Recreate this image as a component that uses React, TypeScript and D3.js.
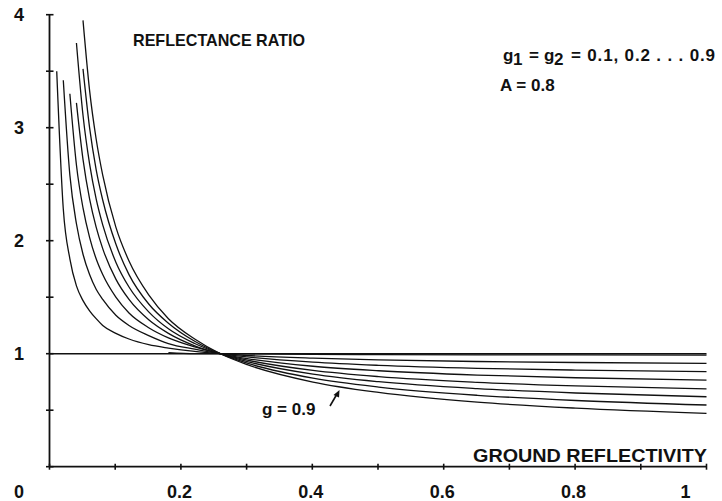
import React from 'react';
import * as d3 from 'd3';

// ground reflectivity samples (x)
const reflectivity = [0.011, 0.021, 0.031, 0.041, 0.051, 0.061, 0.071, 0.081, 0.101, 0.121, 0.151, 0.181, 0.221, 0.261, 0.301, 0.401, 0.501, 0.651, 0.801, 1.0];

// reflectance ratio for g1 = g2 = g (null = not drawn)
const ratioG02 = [null, null, null, null, null, null, null, null, null, null, null, 1.01, 1.0, 1.0, 0.998, 0.994, 0.992, 0.99, 0.989, 0.988];
const ratioG03 = [3.5, 2.28, 1.84, 1.6, 1.47, 1.38, 1.31, 1.25, 1.18, 1.13, 1.08, 1.05, 1.02, 1.0, 0.984, 0.96, 0.945, 0.931, 0.922, 0.915];
const ratioG04 = [null, 3.42, 2.58, 2.15, 1.88, 1.7, 1.57, 1.48, 1.34, 1.25, 1.16, 1.09, 1.04, 0.999, 0.971, 0.925, 0.897, 0.871, 0.855, 0.841];
const ratioG05 = [null, null, 3.3, 2.67, 2.29, 2.03, 1.84, 1.7, 1.5, 1.36, 1.23, 1.14, 1.06, 0.999, 0.957, 0.889, 0.849, 0.811, 0.787, 0.767];
const ratioG06 = [null, null, null, 3.22, 2.72, 2.37, 2.12, 1.93, 1.66, 1.48, 1.3, 1.18, 1.07, 0.998, 0.943, 0.852, 0.797, 0.747, 0.715, 0.688];
const ratioG07 = [null, null, null, 3.75, 3.11, 2.68, 2.37, 2.14, 1.81, 1.59, 1.37, 1.22, 1.09, 0.998, 0.93, 0.819, 0.752, 0.691, 0.652, 0.619];
const ratioG08 = [null, null, null, null, 3.52, 3.0, 2.63, 2.36, 1.97, 1.7, 1.44, 1.27, 1.11, 0.998, 0.916, 0.784, 0.705, 0.632, 0.586, 0.546];
const ratioG09 = [null, null, null, null, 3.95, 3.33, 2.9, 2.58, 2.12, 1.82, 1.52, 1.31, 1.13, 0.997, 0.903, 0.749, 0.657, 0.571, 0.518, 0.472];

// g = 0.1 : flat at a ratio of 1
const unityX = [0, 1];
const unityY = [1, 1];

const xTickValues = [0, 0.1, 0.2, 0.3, 0.4, 0.5, 0.6, 0.7, 0.8, 0.9, 1];
const xTickLabels = ['0.2', '0.4', '0.6', '0.8', '1'];
const xLabelValues = [0.2, 0.4, 0.6, 0.8, 1];
const yTickValues = [0, 0.5, 1, 1.5, 2, 2.5, 3, 3.5, 4];
const yLabelValues = [1, 2, 3, 4];

const W = 722;
const H = 501;
const FONT = "'Liberation Sans', Arial, Helvetica, sans-serif";

export default function App() {
  const x = d3.scaleLinear().domain([0, 1]).range([49.5, 706.5]);
  const y = d3.scaleLinear().domain([0, 4]).range([466.7, 14.7]);

  const line = d3
    .line<[number, number]>()
    .x((d) => x(d[0]))
    .y((d) => y(d[1]))
    .curve(d3.curveMonotoneX);

  const series = [ratioG02, ratioG03, ratioG04, ratioG05, ratioG06, ratioG07, ratioG08, ratioG09];
  const paths = series.map((vals) => {
    const pts: [number, number][] = [];
    vals.forEach((v, i) => {
      if (v !== null) pts.push([reflectivity[i], v as number]);
    });
    return line(pts) as string;
  });
  const unity = line(unityX.map((v, i) => [v, unityY[i]] as [number, number])) as string;

  const x0 = x(0);
  const y0 = y(0);

  const ink = '#111';

  return (
    <svg
      width={W}
      height={H}
      viewBox={`0 0 ${W} ${H}`}
      style={{ position: 'absolute', left: 0, top: 0, background: '#fff' }}
    >
      <rect x={0} y={0} width={W} height={H} fill="#fff" />
      {/* axes */}
      <line x1={x0} x2={x0} y1={y(4)} y2={y0} stroke={ink} strokeWidth={1.8} />
      <line x1={x0} x2={x(1)} y1={y0} y2={y0} stroke={ink} strokeWidth={1.8} />
      {yTickValues.map((t) => (
        <line key={'yt' + t} x1={x0 - 3.5} x2={x0 + 4} y1={y(t)} y2={y(t)} stroke={ink} strokeWidth={1.6} />
      ))}
      {xTickValues.map((t) => (
        <line key={'xt' + t} x1={x(t)} x2={x(t)} y1={y0 - 3} y2={y0 + 3} stroke={ink} strokeWidth={1.6} />
      ))}
      {/* curves */}
      <path d={unity} fill="none" stroke={ink} strokeWidth={1.4} />
      {paths.map((p, i) => (
        <path key={'c' + i} d={p} fill="none" stroke={ink} strokeWidth={1.3} />
      ))}
      {/* tick labels */}
      <g fontFamily={FONT} fontWeight="bold" fontSize={18} fill={ink}>
        {yLabelValues.map((t) => (
          <text key={'yl' + t} x={19} y={y(t) + 6.5} textAnchor="middle">
            {String(t)}
          </text>
        ))}
        <text x={19} y={498} textAnchor="middle">0</text>
        {xLabelValues.map((t, i) => (
          <text key={'xl' + t} x={t === 1 ? x(t) - 21 : x(t) - 1.5} y={498} textAnchor="middle">
            {xTickLabels[i]}
          </text>
        ))}
      </g>
      {/* titles & annotations */}
      <g fontFamily={FONT} fontWeight="bold" fill={ink}>
        <text x={133} y={45.5} fontSize={17} textLength={172} lengthAdjust="spacingAndGlyphs">
          REFLECTANCE RATIO
        </text>
        <text x={473} y={462} fontSize={17.5} textLength={234} lengthAdjust="spacingAndGlyphs">
          GROUND REFLECTIVITY
        </text>
        <text y={61} fontSize={17}>
          <tspan x={503}>g</tspan>
          <tspan x={513} dy={4}>1</tspan>
          <tspan x={529} dy={-4}>=</tspan>
          <tspan x={544}>g</tspan>
          <tspan x={554} dy={4}>2</tspan>
          <tspan x={571} dy={-4} textLength={144} lengthAdjust="spacing">= 0.1, 0.2 . . . 0.9</tspan>
        </text>
        <text x={500} y={91} fontSize={17}>A = 0.8</text>
        <text x={262} y={415} fontSize={17}>g = 0.9</text>
      </g>
      {/* arrow */}
      <line x1={330} y1={406} x2={337} y2={394} stroke={ink} strokeWidth={1.6} />
      <path d="M 339.5 390 L 333.5 395 L 339 397.5 Z" fill={ink} />
    </svg>
  );
}
